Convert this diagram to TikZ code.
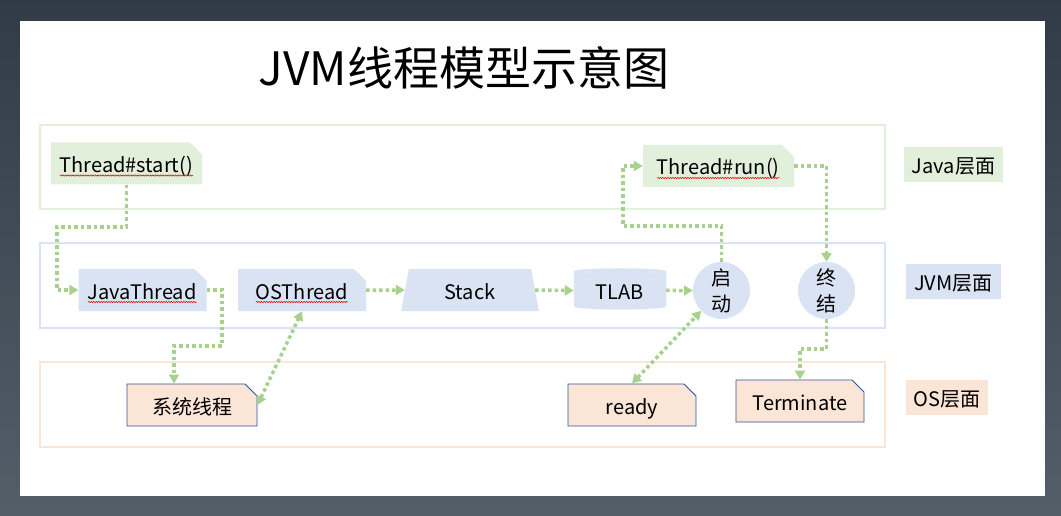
\documentclass[tikz,border=0pt]{standalone}
\usepackage{fontspec}
\setmainfont{Noto Sans CJK SC}
\usepackage{tikz}
\usetikzlibrary{arrows.meta,positioning,shapes.misc,shapes.geometric,decorations.pathmorphing}
\definecolor{javagreen}{HTML}{E2EFDA}
\definecolor{jvmblue}{HTML}{DAE3F3}
\definecolor{ospeach}{HTML}{FBE5D6}
\definecolor{osline}{HTML}{2F5597}
\definecolor{flowgreen}{HTML}{A9D18E}
\definecolor{slidebg}{HTML}{36424F}
\newsavebox\wavebox
\newlength\wavewd
\newcommand\spellwave[1]{\sbox\wavebox{#1}\setlength\wavewd{\wd\wavebox}%
  \rlap{\usebox\wavebox}\tikz[baseline=0pt]\draw[red!85!black,line width=0.5pt,decorate,
  decoration={snake,amplitude=0.7pt,segment length=2.5pt}] (0pt,-3pt) -- (\wavewd,-3pt);}

\begin{document}
\begin{tikzpicture}[
  x=1pt,y=-1pt,
  every node/.style={font=\fontsize{20}{26}\selectfont,inner sep=0pt},
  layer/.style={draw=#1,line width=2pt},
  textline/.style={text height=18pt,text depth=0pt},
  snipbox/.style={chamfered rectangle,chamfered rectangle corners=north east,
                  chamfered rectangle sep=6pt,minimum height=42,textline},
  javabox/.style={snipbox,fill=javagreen,minimum width=151},
  jvmbox/.style={snipbox,fill=jvmblue,minimum width=128},
  osbox/.style={snipbox,fill=ospeach,draw=osline,line width=0.9pt,minimum width=128},
  state/.style={circle,fill=jvmblue,minimum size=57,align=center},
  tag/.style={fill=#1,minimum height=35,inner xsep=8pt,textline},
  flow/.style={flowgreen,line width=3.5pt,dash pattern=on 3.5pt off 3pt,
               -{Triangle[length=9pt,width=10pt]}},
  twoway/.style={flow,{Triangle[length=9pt,width=10pt]}-{Triangle[length=9pt,width=10pt]}}
]
\fill[top color=slidebg!90!black,bottom color=slidebg!85!white] (0,0) rectangle (1061,516);
\fill[white] (20,21) rectangle (1045,496);
\node (title) at (464,68) {\fontsize{46}{54}\selectfont JVM线程模型示意图};

\draw[layer=javagreen] (40,125) rectangle (885,209);
\draw[layer=jvmblue] (40,243) rectangle (885,328);
\draw[layer=ospeach] (40,362) rectangle (885,447);

\node[tag=javagreen] (javalbl) at (953.5,165) {Java层面};
\node[tag=jvmblue] (jvmlbl) at (953.5,281.5) {JVM层面};
\node[tag=ospeach] (oslbl) at (947,397) {OS层面};

\node[javabox] (start) at (126.5,163.5) {\spellwave{Thread\#start()}};
\node[javabox] (run) at (718.5,166) {\spellwave{Thread\#run()}};
\node[jvmbox] (jthread) at (142.5,290) {\spellwave{JavaThread}};
\node[jvmbox] (osthread) at (302,290) {\spellwave{OSThread}};
\node[trapezium,trapezium left angle=80,trapezium right angle=80,trapezium stretches=true,
      fill=jvmblue,minimum width=138,minimum height=42,textline] (stack) at (470,290) {Stack};
\node[cylinder,shape border rotate=90,aspect=0.12,fill=jvmblue,draw=jvmblue!70!white,thin,
      minimum width=92,minimum height=41,textline] (tlab) at (620,290.5) {TLAB};
\node[state] (qidong) at (721.5,290.5) {启\\动};
\node[state] (zhongjie) at (826.5,290.5) {终\\结};
\node[osbox,minimum width=130] (sysos) at (192,405) {系统线程};
\node[osbox] (ready) at (632,405) {ready};
\node[osbox] (term) at (800,401) {Terminate};

\coordinate (c1) at (57,227);
\coordinate (c2) at (222,346);
\coordinate (c3) at (623,226);
\coordinate (c4) at (826.5,349);
\draw[flow] (start.south) |- (c1) |- (jthread.west);
\draw[flow] (jthread.east) -| (c2) -| ([xshift=-18pt]sysos.north);
\draw[twoway] (sysos.east) -- (osthread.south);
\draw[flow] (osthread.east) -- (stack.west);
\draw[flow] (stack.east) -- (tlab.west);
\draw[flow] (tlab.east) -- (qidong.west);
\draw[twoway] (ready.north) -- (qidong.south west);
\draw[flow] (qidong.north) |- (c3) |- (run.west);
\draw[flow] (run.east) -| (zhongjie.north);
\draw[flow] (zhongjie.south) -- (c4) -| (term.north);
\end{tikzpicture}
\end{document}
